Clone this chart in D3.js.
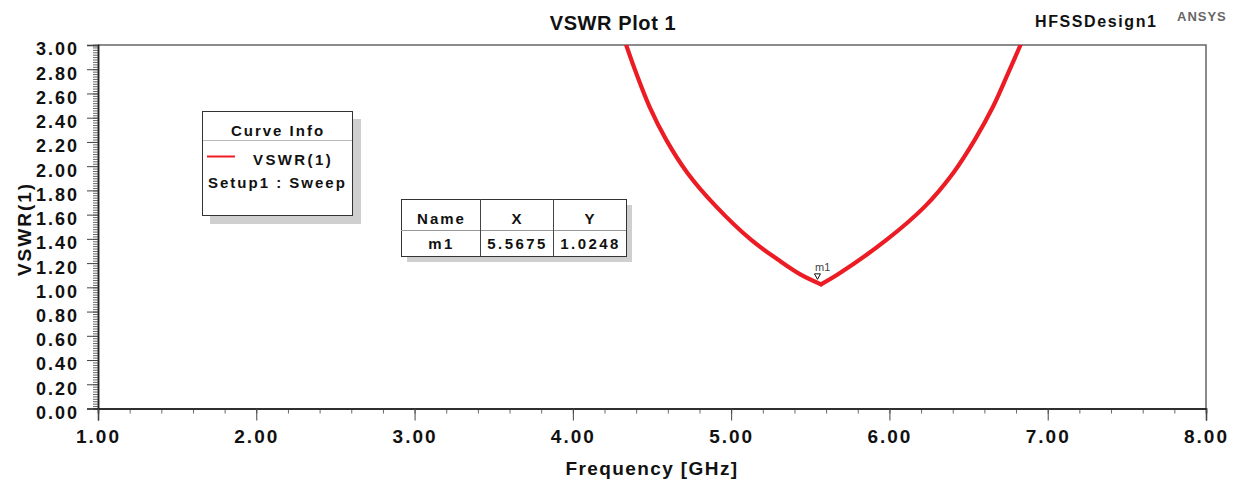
<!DOCTYPE html>
<html>
<head>
<meta charset="utf-8">
<script src="https://cdn.jsdelivr.net/npm/d3@7"></script>
<style>
  html, body { margin: 0; padding: 0; background: #fff; }
  svg { display: block; font-family: "Liberation Sans", Arial, sans-serif; }
  .bold { font-weight: bold; fill: #111; }
</style>
</head>
<body>
<svg id="chart" width="1239" height="483"></svg>
<script>
/* ── Data ────────────────────────────────────────────────────────── */
const freqGHz = [4.337, 4.400, 4.484, 4.590, 4.725, 4.906, 5.127, 5.300, 5.440,
                 5.5675,
                 5.680, 5.981, 6.223, 6.402, 6.539, 6.655, 6.750, 6.828];
const vswr    = [3.00, 2.768, 2.492, 2.217, 1.942, 1.666, 1.391, 1.225, 1.105,
                 1.0248,
                 1.112, 1.391, 1.666, 1.942, 2.217, 2.492, 2.768, 3.00];
const xTicks = [1, 2, 3, 4, 5, 6, 7, 8];
const yTicks = [0, 0.2, 0.4, 0.6, 0.8, 1.0, 1.2, 1.4, 1.6, 1.8, 2.0, 2.2, 2.4, 2.6, 2.8, 3.0];
const markerName = "m1";
const markerX = 5.5675;
const markerY = 1.0248;
const legendLabels = ["VSWR(1)", "Setup1 : Sweep"];

/* ── Layout ──────────────────────────────────────────────────────── */
const X0 = 98, X1 = 1206, Y0 = 45, Y1 = 408.5;
const svg = d3.select("#chart");

const x = d3.scaleLinear().domain([1, 8]).range([X0, X1]);
const y = d3.scaleLinear().domain([0, 3]).range([Y1, Y0]);

/* Titles */
svg.append("text").attr("class", "bold")
  .attr("x", 613).attr("y", 30).attr("text-anchor", "middle")
  .style("font-size", "20px").style("letter-spacing", "0.6px")
  .text("VSWR Plot 1");
svg.append("text").attr("class", "bold")
  .attr("x", 1035).attr("y", 27)
  .style("font-size", "16px").style("letter-spacing", "1.6px")
  .text("HFSSDesign1");
svg.append("text")
  .attr("x", 1177).attr("y", 21)
  .style("font-size", "13px").style("font-weight", "bold")
  .style("letter-spacing", "1px").attr("fill", "#666")
  .text("ANSYS");

/* Frame (top + right) */
svg.append("path")
  .attr("d", `M${X0},${Y0}H${X1}V${Y1}`)
  .attr("fill", "none").attr("stroke", "#666").attr("stroke-width", 1.5);

/* ── Axes ────────────────────────────────────────────────────────── */
const fmt = d3.format(".2f");

const yMinor = svg.append("g").attr("transform", `translate(${X0},0)`)
  .call(d3.axisLeft(y).tickValues(d3.range(0, 3.001, 0.02)).tickSize(5).tickFormat(""));
const yAxis = svg.append("g").attr("transform", `translate(${X0},0)`)
  .call(d3.axisLeft(y).tickValues(yTicks).tickSize(11).tickPadding(8).tickFormat(fmt));

const xMinor = svg.append("g").attr("transform", `translate(0,${Y1})`)
  .call(d3.axisBottom(x).tickValues(d3.range(1, 8.001, 0.2)).tickSize(5).tickFormat(""));
const xAxis = svg.append("g").attr("transform", `translate(0,${Y1})`)
  .call(d3.axisBottom(x).tickValues(xTicks).tickSize(12).tickPadding(9).tickFormat(fmt));

[yMinor, yAxis, xMinor, xAxis].forEach(g => {
  g.select(".domain").attr("stroke", "#222").attr("stroke-width", 1.5);
  g.selectAll(".tick line").attr("stroke", "#444");
});
yMinor.selectAll(".tick line").attr("stroke", "#666");
xMinor.selectAll(".tick line").attr("stroke", "#666");

yAxis.selectAll(".tick text")
  .attr("dy", "0.55em")
  .style("font-size", "18px").style("font-weight", "bold")
  .style("letter-spacing", "2px").attr("fill", "#111");
xAxis.selectAll(".tick text")
  .style("font-size", "19px").style("font-weight", "bold")
  .style("letter-spacing", "2px").attr("fill", "#111");

/* Axis titles */
svg.append("text").attr("class", "bold")
  .attr("x", 652).attr("y", 475).attr("text-anchor", "middle")
  .style("font-size", "19px").style("letter-spacing", "1.4px")
  .text("Frequency [GHz]");
svg.append("text").attr("class", "bold")
  .attr("transform", "translate(31,229) rotate(-90)")
  .attr("text-anchor", "middle")
  .style("font-size", "19px").style("letter-spacing", "2px")
  .text("VSWR(1)");

/* ── Curve ───────────────────────────────────────────────────────── */
svg.append("clipPath").attr("id", "plotClip")
  .append("rect").attr("x", X0).attr("y", Y0).attr("width", X1 - X0).attr("height", Y1 - Y0);

const pts = freqGHz.map((f, i) => [f, vswr[i]]);
const iMin = d3.minIndex(vswr);
const line = d3.line().x(d => x(d[0])).y(d => y(d[1])).curve(d3.curveCatmullRom.alpha(0.5));

/* Two branches share the minimum so the dip stays a sharp V */
[pts.slice(0, iMin + 1), pts.slice(iMin)].forEach(branch => {
  svg.append("path")
    .attr("clip-path", "url(#plotClip)")
    .attr("d", line(branch))
    .attr("fill", "none")
    .attr("stroke", "#ec1c24")
    .attr("stroke-width", 4.2)
    .attr("stroke-linejoin", "round")
    .attr("stroke-linecap", "round");
});

/* Marker m1 */
const mx = x(markerX), my = y(markerY);
svg.append("path")
  .attr("d", `M${mx - 6.5},${my - 10.5}H${mx - 0.5}L${mx - 3.5},${my - 5}Z`)
  .attr("fill", "#fff").attr("stroke", "#111").attr("stroke-width", 1);
svg.append("text")
  .attr("x", mx - 6).attr("y", my - 13)
  .style("font-size", "11px").attr("fill", "#444")
  .text(markerName);

/* ── Curve Info legend ───────────────────────────────────────────── */
const lg = svg.append("g");
lg.append("rect").attr("x", 210).attr("y", 119).attr("width", 151).attr("height", 105).attr("fill", "#cfcfcf");
lg.append("rect").attr("x", 202.5).attr("y", 111.5).attr("width", 150).attr("height", 104)
  .attr("fill", "#fff").attr("stroke", "#333").attr("stroke-width", 1);
lg.append("line").attr("x1", 203).attr("x2", 352).attr("y1", 140.5).attr("y2", 140.5)
  .attr("stroke", "#bbb");
lg.append("text").attr("class", "bold")
  .attr("x", 278).attr("y", 135.5).attr("text-anchor", "middle")
  .style("font-size", "15px").style("letter-spacing", "2px")
  .text("Curve Info");
lg.append("line").attr("x1", 207).attr("x2", 235).attr("y1", 156.5).attr("y2", 156.5)
  .attr("stroke", "#ec1c24").attr("stroke-width", 2);
lg.append("text").attr("class", "bold")
  .attr("x", 253).attr("y", 164.5)
  .style("font-size", "15px").style("letter-spacing", "2.4px")
  .text(legendLabels[0]);
lg.append("text").attr("class", "bold")
  .attr("x", 208).attr("y", 188)
  .style("font-size", "15px").style("letter-spacing", "2px")
  .text(legendLabels[1]);

/* ── Marker table ────────────────────────────────────────────────── */
const tb = svg.append("g");
const tX = 401, tY = 199, tW = 225, tH = 57;
const colX = [401, 480, 553, 626];
tb.append("rect").attr("x", tX + 6).attr("y", tY + 6).attr("width", tW).attr("height", tH).attr("fill", "#cfcfcf");
tb.append("rect").attr("x", tX + 0.5).attr("y", tY + 0.5).attr("width", tW).attr("height", tH)
  .attr("fill", "#fff").attr("stroke", "#333");
tb.append("line").attr("x1", tX).attr("x2", tX + tW).attr("y1", 230.5).attr("y2", 230.5).attr("stroke", "#999");
colX.slice(1, 3).forEach(cx => {
  tb.append("line").attr("x1", cx + 0.5).attr("x2", cx + 0.5).attr("y1", tY).attr("y2", tY + tH)
    .attr("stroke", "#444");
});
const header = ["Name", "X", "Y"];
const row = [markerName, markerX.toFixed(4), markerY.toFixed(4)];
header.forEach((h, i) => {
  tb.append("text").attr("class", "bold")
    .attr("x", (colX[i] + colX[i + 1]) / 2 + 1).attr("y", 224).attr("text-anchor", "middle")
    .style("font-size", "15px").style("letter-spacing", "2px").text(h);
  tb.append("text").attr("class", "bold")
    .attr("x", (colX[i] + colX[i + 1]) / 2 + 1).attr("y", 249).attr("text-anchor", "middle")
    .style("font-size", "15px").style("letter-spacing", "2.4px").text(row[i]);
});
</script>
</body>
</html>
